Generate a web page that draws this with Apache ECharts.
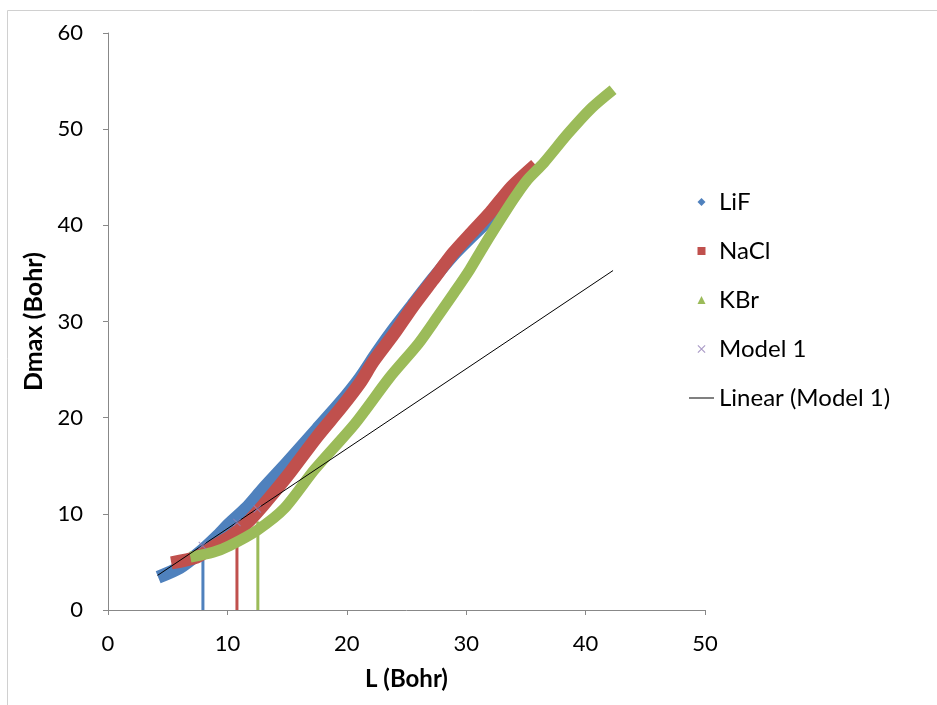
<!DOCTYPE html>
<html>
<head>
<meta charset="utf-8">
<script src="https://cdn.jsdelivr.net/npm/echarts@6/dist/echarts.min.js"></script>
<style>
  html, body { margin: 0; padding: 0; background: #fff; }
  #chart { width: 937px; height: 705px; }
</style>
</head>
<body>
<div id="chart"></div>
<script>
// values (L in Bohr, Dmax in Bohr)
var lifL = [4.2, 6.0, 7.7, 9.1, 10.2, 11.6, 13.0, 15.0, 17.5, 19.5, 21.1, 22.5, 24.0, 25.5, 27.2, 28.9, 30.5, 32.0, 33.2, 34.3]
var lifD = [3.4, 4.4, 6.0, 7.6, 9.0, 10.6, 12.6, 15.3, 18.8, 21.6, 24.1, 26.7, 29.3, 31.7, 34.4, 36.9, 38.9, 40.7, 42.4, 44.1]

var naclL = [5.3, 7.4, 9.1, 10.2, 11.6, 13.0, 15.0, 17.5, 19.5, 21.1, 22.2, 24.0, 25.5, 27.2, 28.9, 30.5, 32.0, 33.8, 35.8]
var naclD = [4.9, 5.5, 6.8, 7.6, 9.0, 10.9, 13.9, 18.0, 21.0, 23.6, 25.8, 28.8, 31.5, 34.3, 37.1, 39.3, 41.3, 44.0, 46.3]

var kbrL = [6.9, 8.8, 10.2, 12.5, 14.8, 17.3, 20.7, 23.6, 26.0, 27.6, 29.0, 30.3, 31.5, 33.9, 35.1, 36.5, 38.5, 40.5, 42.3]
var kbrD = [5.5, 6.0, 6.7, 8.3, 10.6, 14.6, 19.4, 24.2, 27.7, 30.5, 33.0, 35.4, 37.9, 42.6, 44.7, 46.5, 49.5, 52.2, 54.1]

var modelL = [7.9, 10.8, 12.5]
var modelD = [6.7, 9.1, 10.5]

// trendline (Linear (Model 1)) end points
var linearL = [4.15, 42.3]
var linearD = [3.6, 35.3]

// vertical drop lines at each cut-off L
var dropL = [7.95, 10.8, 12.55]
var dropTop = [5.5, 8.1, 9.2]

var xTicks = [0, 10, 20, 30, 40, 50]
var yTicks = [0, 10, 20, 30, 40, 50, 60]

var colors = { LiF: '#4F81BD', NaCl: '#C0504D', KBr: '#9BBB59', model: '#9481B8' }
var FONT = 'Lato, "Open Sans", sans-serif'

function pairs (xs, ys) {
  return xs.map(function (x, i) { return [x, ys[i]] })
}

var chart = echarts.init(document.getElementById('chart'))

function band (name, xs, ys, color, width) {
  return {
    name: name,
    type: 'line',
    data: pairs(xs, ys),
    showSymbol: false,
    symbol: 'none',
    smooth: 0.25,
    lineStyle: { color: color, width: width, join: 'round' },
    itemStyle: { color: color },
    animation: false
  }
}

function drop (i, color) {
  return {
    name: 'drop' + i,
    type: 'line',
    data: [[dropL[i], 0], [dropL[i], dropTop[i]]],
    symbol: 'none',
    silent: true,
    lineStyle: { color: color, width: 3 },
    itemStyle: { color: color },
    animation: false
  }
}

// legend / marker glyphs (path icons keep their aspect ratio)
var crossPath = 'path://M0,1L1,0L10,9L9,10Z M9,0L10,1L1,10L0,9Z'
var diamondPath = 'path://M5,0L10,5L5,10L0,5Z'
var squarePath = 'path://M0,0H10V10H0Z'
var trianglePath = 'path://M5,0L10,10H0Z'
var dashPath = 'path://M0,0H25V1H0Z'

var option = {
  backgroundColor: '#fff',
  animation: false,
  textStyle: { fontFamily: FONT },
  graphic: [{
    type: 'rect',
    shape: { x: 7.5, y: 10.5, width: 1000, height: 1000 },
    style: { fill: 'none', stroke: '#d0d0d0', lineWidth: 1 },
    silent: true,
    z: -1
  }],
  grid: { left: 108, right: 232, top: 33, bottom: 95 },
  legend: {
    orient: 'vertical',
    left: 684,
    top: 185,
    itemWidth: 25,
    itemHeight: 8,
    itemGap: 25,
    symbolKeepAspect: true,
    textStyle: { fontSize: 24, color: '#000', fontFamily: FONT },
    data: [
      { name: 'LiF', icon: diamondPath },
      { name: 'NaCl', icon: squarePath },
      { name: 'KBr', icon: trianglePath },
      { name: 'Model 1', icon: crossPath },
      { name: 'Linear (Model 1)', icon: dashPath }
    ]
  },
  xAxis: {
    type: 'value',
    min: xTicks[0],
    max: xTicks[xTicks.length - 1],
    interval: 10,
    name: 'L (Bohr)',
    nameLocation: 'middle',
    nameGap: 57,
    nameTextStyle: { fontSize: 24, fontWeight: 'bold', color: '#000', fontFamily: FONT },
    axisLine: { show: true, onZero: false, lineStyle: { color: '#888', width: 1 } },
    axisTick: { show: true, length: 5, lineStyle: { color: '#888' } },
    axisLabel: { fontSize: 22, color: '#000', margin: 23, fontFamily: FONT },
    splitLine: { show: false }
  },
  yAxis: {
    type: 'value',
    min: yTicks[0],
    max: yTicks[yTicks.length - 1],
    interval: 10,
    name: 'Dmax (Bohr)',
    nameLocation: 'middle',
    nameGap: 55,
    nameTextStyle: { fontSize: 25, fontWeight: 'bold', color: '#000', fontFamily: FONT },
    axisLine: { show: true, onZero: false, lineStyle: { color: '#888', width: 1 } },
    axisTick: { show: true, length: 5, lineStyle: { color: '#888' } },
    axisLabel: { fontSize: 22, color: '#000', margin: 25, fontFamily: FONT },
    splitLine: { show: false }
  },
  series: [
    drop(0, colors.LiF),
    drop(1, colors.NaCl),
    drop(2, colors.KBr),
    band('LiF', lifL, lifD, colors.LiF, 13),
    band('NaCl', naclL, naclD, colors.NaCl, 13),
    band('KBr', kbrL, kbrD, colors.KBr, 11),
    {
      name: 'Linear (Model 1)',
      type: 'line',
      data: pairs(linearL, linearD),
      symbol: 'none',
      lineStyle: { color: '#000', width: 1 },
      itemStyle: { color: '#000' },
      z: 5
    },
    {
      name: 'Model 1',
      type: 'scatter',
      data: pairs(modelL, modelD),
      symbol: crossPath,
      symbolSize: 8,
      itemStyle: { color: colors.model },
      z: 6
    }
  ]
}

chart.setOption(option)
</script>
</body>
</html>
